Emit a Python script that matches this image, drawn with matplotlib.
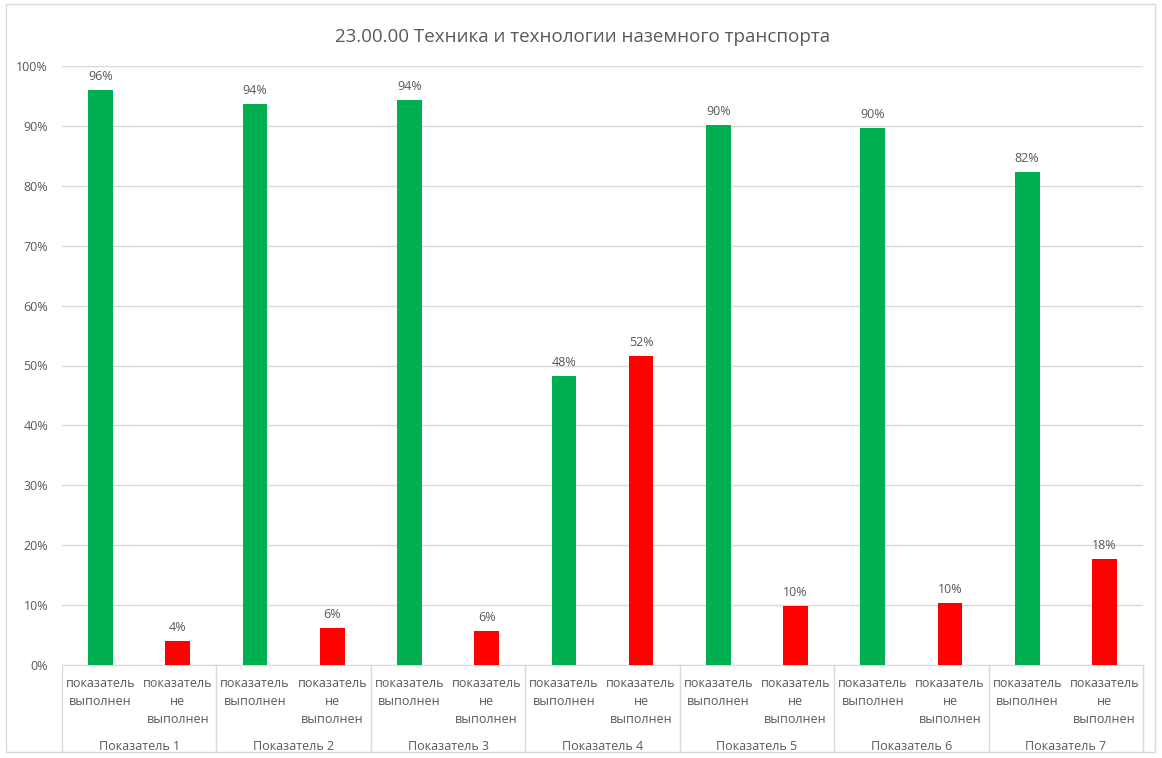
import matplotlib.pyplot as plt
from matplotlib.patches import Rectangle
from matplotlib.ticker import PercentFormatter
from matplotlib.lines import Line2D

plt.rcParams['font.family'] = ['Open Sans', 'DejaVu Sans']

title = '23.00.00 Техника и технологии наземного транспорта'
groups = ['Показатель 1', 'Показатель 2', 'Показатель 3', 'Показатель 4',
          'Показатель 5', 'Показатель 6', 'Показатель 7']
sub_labels = ['показатель\nвыполнен', 'показатель\nне\nвыполнен']
done = [96.0, 93.7, 94.3, 48.2, 90.2, 89.6, 82.3]
not_done = [4.0, 6.2, 5.7, 51.6, 9.8, 10.4, 17.7]

green = '#00B050'
red = '#FF0000'
grey_text = '#595959'

fig = plt.figure(figsize=(11.62, 7.58), dpi=100)
ax = fig.add_axes([62 / 1162, 93 / 758, 1081 / 1162, 599 / 758])

# chart border
fig.patches.append(Rectangle((6 / 1162, 6 / 758), 1149 / 1162, 748 / 758,
                             transform=fig.transFigure, fill=False,
                             edgecolor='#d9d9d9', linewidth=1))

values = []
colors = []
for d, n in zip(done, not_done):
    values += [d, n]
    colors += [green, red]
xs = list(range(len(values)))

ax.bar(xs, values, width=0.32, color=colors, zorder=3)
for x, v in zip(xs, values):
    ax.text(x, v + 1.2, f'{round(v):.0f}%', ha='center', va='bottom',
            fontsize=9, color=grey_text)

ax.set_xlim(-0.5, len(values) - 0.5)
ax.set_ylim(0, 100)
ax.set_yticks(range(0, 101, 10))
ax.yaxis.set_major_formatter(PercentFormatter(decimals=0))
ax.tick_params(axis='y', length=0, labelsize=9, labelcolor=grey_text, pad=10)
ax.set_xticks([])
ax.grid(axis='y', color='#d9d9d9', linewidth=1, zorder=0)
for s in ['top', 'right', 'left']:
    ax.spines[s].set_visible(False)
ax.spines['bottom'].set_color('#d9d9d9')

# multi-level category axis
trans = ax.get_xaxis_transform()
y_px = 1 / 599
for i in range(len(groups) + 1):
    ax.add_line(Line2D([2 * i - 0.5, 2 * i - 0.5], [0, -87 * y_px], transform=trans,
                       color='#d9d9d9', linewidth=1, clip_on=False))
for i, g in enumerate(groups):
    for j in range(2):
        ax.text(2 * i + j, -12 * y_px, sub_labels[j], transform=trans, ha='center',
                va='top', fontsize=9, color=grey_text, linespacing=1.5)
    ax.text(2 * i + 0.5, -81 * y_px, g, transform=trans, ha='center',
            va='center', fontsize=9, color=grey_text)

fig.text(583 / 1162, 1 - 37 / 758, title, ha='center', va='center',
         fontsize=13.5, color=grey_text)

fig.savefig('out.png', dpi=100)
